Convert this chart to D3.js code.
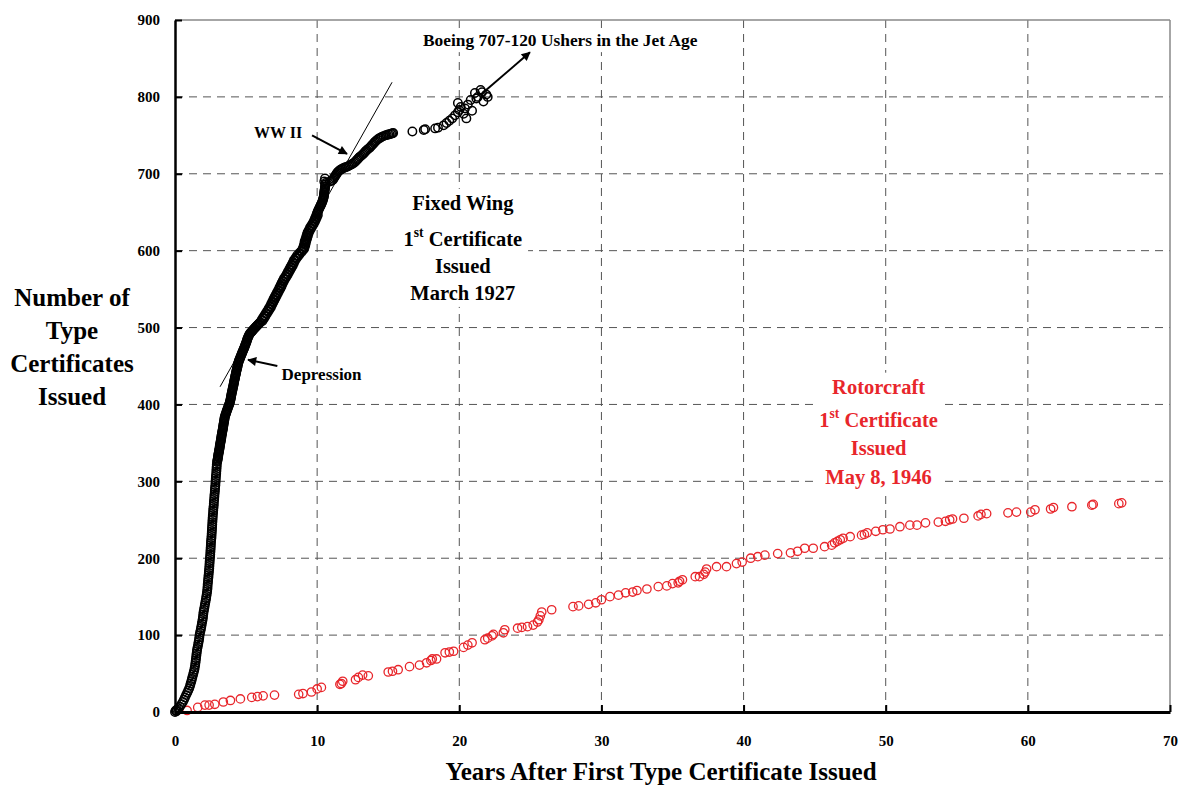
<!DOCTYPE html>
<html><head><meta charset="utf-8">
<script src="https://cdn.jsdelivr.net/npm/d3@7"></script>
<style>
body{margin:0;background:#fff}
svg{display:block}
text{font-family:"Liberation Serif","Times New Roman",serif;font-weight:bold}
</style>
</head><body>
<svg id="chart" width="1186" height="787"></svg>
<script>
// ---------------- DATA ----------------
const xTicks = [0,10,20,30,40,50,60,70];
const yTicks = [0,100,200,300,400,500,600,700,800,900];
const xTitle = "Years After First Type Certificate Issued";
const yTitle = ["Number of","Type","Certificates","Issued"];

// Fixed wing: [years after first certificate, cumulative certificates]
const fixedWing = [
[0.0,0],[0.05,2],[0.1,1],[0.15,3],[0.25,5],[0.35,7],[0.45,10],[0.55,13],[0.63,16],[0.7,19],[0.78,22],[0.86,25],[0.93,28],[1.0,31],[1.06,34],
[1.1,37],[1.15,40],[1.19,43],[1.23,46],[1.28,49],[1.32,52],[1.36,55],[1.39,58],[1.42,61],[1.44,64],[1.46,67],[1.48,70],[1.5,73],[1.52,76],[1.54,79],[1.56,82],
[1.6,85],[1.63,88],[1.66,91],[1.69,94],[1.71,97],[1.73,100],[1.76,103],[1.8,106],[1.83,109],[1.86,112],[1.89,115],
[1.92,118],[1.95,121],[1.97,124],[1.99,127],[2.01,130],[2.04,133],[2.07,136],[2.1,139],[2.13,142],[2.16,145],[2.19,148],[2.21,151],[2.24,154],
[2.26,157],[2.28,160],[2.29,163],[2.3,166],[2.32,169],[2.33,172],[2.35,175],[2.36,178],[2.38,181],[2.39,184],[2.41,187],[2.42,190],[2.43,193],[2.44,196],[2.45,199],
[2.47,202],[2.48,205],[2.49,208],[2.5,211],[2.51,214],[2.52,217],[2.53,220],[2.54,223],[2.56,226],[2.57,229],[2.58,232],[2.59,235],[2.6,238],[2.61,241],[2.62,244],[2.63,247],[2.64,250],[2.65,253],
[2.66,256],[2.68,259],[2.69,262],[2.7,265],[2.72,268],[2.73,271],[2.74,274],[2.76,277],[2.77,280],[2.78,283],[2.8,286],[2.81,289],[2.82,292],[2.84,295],[2.85,298],[2.86,301],[2.87,304],[2.88,307],[2.9,310],[2.91,313],[2.92,316],[2.93,319],[2.94,322],
[2.96,325],[2.99,328],[3.02,331],[3.04,334],[3.07,337],[3.1,340],[3.13,343],[3.15,346],[3.18,349],[3.21,352],[3.24,355],[3.26,358],[3.29,361],[3.32,364],[3.35,367],[3.38,370],[3.4,373],[3.43,376],[3.46,379],[3.48,382],
[2.98,326.5],[3.01,329.5],[3.04,332.5],[3.06,335.5],[3.09,338.5],[3.12,341.5],[3.15,344.5],[3.17,347.5],[3.2,350.5],[3.23,353.5],[3.26,356.5],[3.28,359.5],[3.31,362.5],[3.34,365.5],[3.37,368.5],[3.4,371.5],[3.42,374.5],[3.45,377.5],[3.48,380.5],[3.5,383.5],
[3.52,385],[3.58,388],[3.63,391],[3.69,394],[3.75,397],[3.81,400],[3.86,403],
[3.55,386.5],[3.61,389.5],[3.66,392.5],[3.72,395.5],[3.78,398.5],[3.84,401.5],
[3.9,406],[3.93,409],[3.96,412],[3.99,415],[4.03,418],[4.06,421],[4.1,424],[4.13,427],[4.16,430],[4.2,433],[4.23,436],[4.27,439],[4.3,442],[4.34,445],[4.38,448],[4.41,451],[4.45,454],
[3.88,404.5],[3.92,407.5],[3.95,410.5],[3.98,413.5],[4.01,416.5],[4.05,419.5],[4.08,422.5],[4.12,425.5],[4.15,428.5],[4.18,431.5],[4.22,434.5],[4.25,437.5],[4.29,440.5],[4.32,443.5],[4.36,446.5],[4.4,449.5],[4.43,452.5],
[4.5,457],[4.57,460],[4.63,463],[4.7,466],[4.76,469],[4.83,472],[4.9,475],[4.96,478],[5.02,481],[5.07,484],[5.13,487],[5.2,490],[5.3,493],
[4.48,455.5],[4.54,458.5],[4.6,461.5],[4.67,464.5],[4.73,467.5],[4.8,470.5],[4.87,473.5],[4.93,476.5],[4.99,479.5],[5.05,482.5],[5.1,485.5],[5.17,488.5],[5.25,491.5],
[5.4,495],[5.5,497],[5.6,499],[5.7,501],[5.8,503],[5.9,505],[6.0,507],
[5.35,494],[5.45,496],[5.55,498],[5.65,500],[5.75,502],[5.85,504],[5.95,506],
[6.1,510],[6.2,513],[6.3,516],[6.4,519],[6.5,522],[6.6,525],[6.7,528],[6.77,531],[6.85,534],[6.93,537],[7.01,540],[7.1,543],[7.18,546],[7.27,549],[7.35,552],[7.43,555],[7.5,558],[7.58,561],
[6.15,508.5],[6.25,511.5],[6.35,514.5],[6.45,517.5],[6.55,520.5],[6.65,523.5],[6.75,526.5],[6.83,529.5],[6.91,532.5],[6.99,535.5],[7.07,538.5],[7.15,541.5],[7.24,544.5],[7.32,547.5],[7.41,550.5],[7.49,553.5],[7.56,556.5],[7.64,559.5],[7.72,562.5],
[7.67,564],[7.78,567],[7.87,570],[7.95,573],[8.05,576],[8.13,579],[8.22,582],[8.3,585],[8.37,588],[8.5,591],[8.6,594],[8.75,597],[8.9,600],
[7.82,565.5],[7.92,568.5],[8.01,571.5],[8.1,574.5],[8.19,577.5],[8.28,580.5],[8.36,583.5],[8.43,586.5],[8.53,589.5],[8.65,592.5],[8.77,595.5],[8.92,598.5],[9.05,601.5],
[9.0,603],[9.05,606],[9.1,609],[9.12,612],[9.18,615],[9.23,618],[9.28,621],[9.33,624],[9.42,627],[9.5,630],[9.6,633],[9.7,636],[9.78,639],[9.85,642],[9.92,645],[9.98,648],
[9.12,604.5],[9.17,607.5],[9.21,610.5],[9.25,613.5],[9.3,616.5],[9.35,619.5],[9.4,622.5],[9.47,625.5],[9.56,628.5],[9.65,631.5],[9.75,634.5],[9.84,637.5],[9.91,640.5],[9.98,643.5],[10.05,646.5],
[10.05,651],[10.12,654],[10.2,657],[10.28,660],[10.35,663],[10.4,666],[10.45,669],[10.48,672],[10.5,675],[10.52,678],[10.55,681],[10.56,684],[10.6,688],[10.55,694],[10.5,690],
[10.02,649.5],[10.08,652.5],[10.16,655.5],[10.24,658.5],[10.31,661.5],[10.38,664.5],[10.43,667.5],[10.47,670.5],[10.49,673.5],[10.51,676.5],[10.53,679.5],[10.55,682.5],[10.58,686],
[10.9,690],[11.1,692],[11.2,695],[11.3,698],[11.4,701],[11.55,704],[11.7,706],
[11.9,708],[12.1,709],[12.3,711],[12.5,713],[12.7,716],[12.85,719],[13.0,722],[13.2,725],[13.35,728],[13.5,731],[13.7,734],[13.85,737],[14.0,740],[14.15,743],[14.35,746],[14.55,748],[14.8,750],[15.0,751],[15.2,752],[15.35,753],
[11.0,691],[11.15,693.5],[11.25,696.5],[11.35,699.5],[11.47,702.5],[11.62,705],[11.8,707],[12.0,708.5],[12.2,710],[12.4,712],[12.6,714.5],[12.77,717.5],[12.92,720.5],[13.1,723.5],[13.27,726.5],[13.42,729.5],[13.6,732.5],[13.77,735.5],[13.92,738.5],[14.07,741.5],[14.25,744.5],[14.45,747],[14.67,749],[14.9,750.5],[15.1,751.5],[15.28,752.5],
[16.7,755],[17.5,757],[17.6,758],[18.3,759],[18.5,760],[18.9,763],[19.1,766],[19.3,769],[19.5,772],[19.7,776],[19.9,780],[20.0,783],[20.1,787],[19.9,792],[20.3,778],[20.5,772],[20.4,785],[20.6,790],[20.8,796],[20.9,782],[21.1,805],[21.3,800],[21.5,809],[21.7,794],[21.9,803],[22.0,800],[21.6,806],[21.2,798]
];

// Rotorcraft: [years after first certificate, cumulative certificates]
const rotorcraft = [
[0.85,2],[1.6,6],[2.1,9],[2.4,9],[2.8,10],[3.4,13],[3.9,15],[4.6,17],[5.4,19],[5.8,20],[6.2,21],[7.0,22],[8.7,23],[9.0,24],[9.6,26],[10.0,30],[10.3,32],
[11.6,36],[11.7,37],[11.8,40],[12.7,42],[12.9,45],[13.2,48],[13.6,47],[15.0,52],[15.3,53],[15.7,55],[16.5,59],[17.2,61],[17.7,64],[18.0,67],[18.1,69],[18.4,69],
[19.0,77],[19.3,78],[19.6,79],[20.3,84],[20.6,87],[20.9,90],[21.8,94],[22.0,96],[22.3,99],[22.4,101],[23.1,103],[23.2,107],[24.1,109],[24.4,110],[24.8,111],
[25.2,113],[25.5,117],[25.6,120],[25.7,125],[25.8,130],[26.5,133],[28.0,137],[28.4,138],[29.1,140],[29.6,142],[30.0,146],[30.6,150],[31.2,152],[31.7,155],
[32.2,156],[32.5,158],[33.2,160],[34.0,163],[34.6,164],[35.0,167],[35.4,168],[35.5,170],[35.7,172],[36.6,176],[36.9,176],[37.2,179],[37.3,182],[37.4,186],
[38.1,189],[38.8,189],[39.5,193],[39.9,195],[40.5,200],[41.0,202],[41.5,204],[42.4,206],[43.3,207],[43.8,209],[44.3,213],[44.9,213],[45.7,215],[46.2,217],
[46.4,220],[46.6,222],[46.8,224],[47.0,226],[47.5,228],[48.3,230],[48.5,231],[48.7,233],[49.3,235],[49.8,237],[50.3,238],[51.0,241],[51.7,243],[52.2,243],
[52.8,246],[53.7,247],[54.2,248],[54.5,250],[54.7,251],[55.5,252],[56.5,255],[56.7,257],[57.1,258],[58.6,259],[59.2,260],[60.2,260],[60.5,263],[61.6,264],
[61.8,266],[63.1,267],[64.5,269],[64.6,270],[66.4,271],[66.6,272]
];

// Annotations (positions in data units)
const fixedWingLabel = ["Fixed Wing","1st Certificate","Issued","March 1927"];
const rotorLabel = ["Rotorcraft","1st Certificate","Issued","May 8, 1946"];
const fixedWingLabelAt = [20.25, 653];   // x, y of first baseline
const rotorLabelAt = [49.5, 414];
const trendLine = [[3.17,423],[15.27,819]];
const wwiiText = {text:"WW II", at:[8.95,746]};
const wwiiArrow = [[9.64,750],[12.1,726]];
const depText = {text:"Depression", at:[7.5,432]};
const depArrow = [[7.2,450],[5.14,458]];
const boeingText = {text:"Boeing 707-120 Ushers in the Jet Age", at:[27.1,866]};
const boeingArrow = [[21.46,802],[24.97,858]];

// ---------------- CHART ----------------
const svg = d3.select("#chart");
const x = d3.scaleLinear().domain([0,70]).range([175,1170]);
const y = d3.scaleLinear().domain([0,900]).range([712,20]);
const RED = "#e8262b";

const defs = svg.append("defs");
defs.append("marker").attr("id","ah").attr("viewBox","0 0 10 10")
  .attr("refX",9).attr("refY",5).attr("markerWidth",5).attr("markerHeight",4.5)
  .attr("orient","auto").attr("markerUnits","strokeWidth")
  .append("path").attr("d","M0,0 L10,5 L0,10 z").attr("fill","#000");

// grid
const grid = svg.append("g");
grid.selectAll(".hg").data(yTicks.filter(d=>d>0 && d<900)).join("line")
  .attr("x1",x(0)).attr("x2",x(70)).attr("y1",d=>y(d)).attr("y2",d=>y(d))
  .attr("stroke","#555").attr("stroke-width",1).attr("stroke-dasharray","8,6");
grid.selectAll(".vg").data(xTicks.filter(d=>d>0 && d<70)).join("line")
  .attr("x1",d=>x(d)).attr("x2",d=>x(d)).attr("y1",y(900)).attr("y2",y(0))
  .attr("stroke","#555").attr("stroke-width",1).attr("stroke-dasharray","8,6");

// frame top/right
svg.append("line").attr("x1",x(0)).attr("x2",x(70)).attr("y1",y(900)).attr("y2",y(900)).attr("stroke","#888").attr("stroke-width",1.5);
svg.append("line").attr("x1",x(70)).attr("x2",x(70)).attr("y1",y(900)).attr("y2",y(0)).attr("stroke","#888").attr("stroke-width",1.5);

const ann = svg.append("g");
function boxed(g, pad){
  const b = g.node().getBBox();
  g.insert("rect",":first-child").attr("x",b.x-pad).attr("y",b.y-pad/2)
   .attr("width",b.width+2*pad).attr("height",b.height+pad).attr("fill","#fff");
}
function labelBlock(lines, at, color, size, gaps){
  const g = ann.append("g");
  let yy = y(at[1]);
  lines.forEach((ln,i)=>{
    if(i>0) yy += gaps[i-1];
    const t = g.append("text").attr("x",x(at[0])).attr("y",yy).attr("text-anchor","middle")
      .attr("fill",color).style("font-size",size+"px");
    const m = ln.match(/^(\d+)(st|nd|rd|th)(.*)$/);
    if(m){
      t.append("tspan").text(m[1]);
      t.append("tspan").attr("dy",-9).style("font-size",(size*0.66)+"px").text(m[2]);
      t.append("tspan").attr("dy",9).text(m[3]);
    } else t.text(ln);
  });
  boxed(g,6);
}
labelBlock(fixedWingLabel, fixedWingLabelAt, "#000", 20.5, [36,27,27]);
labelBlock(rotorLabel, rotorLabelAt, RED, 20.5, [33,28,29]);

const bt = ann.append("g");
bt.append("text").attr("x",x(boeingText.at[0])).attr("y",y(boeingText.at[1])).attr("text-anchor","middle")
  .style("font-size","17.4px").text(boeingText.text);
boxed(bt,4);
const dt = ann.append("g");
dt.append("text").attr("x",x(depText.at[0])).attr("y",y(depText.at[1]))
  .style("font-size","17px").text(depText.text);
boxed(dt,3);
ann.append("text").attr("x",x(wwiiText.at[0])).attr("y",y(wwiiText.at[1])).attr("text-anchor","end")
  .style("font-size","16px").text(wwiiText.text);

const line = d3.line().x(d=>x(d[0])).y(d=>y(d[1]));
ann.append("path").attr("d",line(trendLine)).attr("stroke","#000").attr("stroke-width",1).attr("fill","none");
[wwiiArrow, depArrow, boeingArrow].forEach(a=>{
  ann.append("path").attr("d",line(a)).attr("stroke","#000").attr("stroke-width",2).attr("fill","none").attr("marker-end","url(#ah)");
});

// points
svg.append("g").selectAll("circle").data(rotorcraft).join("circle")
  .attr("cx",d=>x(d[0])).attr("cy",d=>y(d[1])).attr("r",4.2)
  .attr("fill","none").attr("stroke",RED).attr("stroke-width",1.3);
svg.append("g").selectAll("circle").data(fixedWing).join("circle")
  .attr("cx",d=>x(d[0])).attr("cy",d=>y(d[1])).attr("r",4.2)
  .attr("fill","none").attr("stroke","#000").attr("stroke-width",1.5);

// axes
const gy = svg.append("g").attr("transform",`translate(${x(0)},0)`)
  .call(d3.axisLeft(y).tickValues(yTicks).tickSize(-7).tickSizeOuter(0).tickPadding(15));
gy.select(".domain").attr("stroke","#000").attr("stroke-width",2.5);
gy.selectAll(".tick line").attr("stroke","#000").attr("stroke-width",2);
gy.selectAll(".tick text").style("font-size","15px").attr("fill","#000");

const gx = svg.append("g").attr("transform",`translate(0,${y(0)})`)
  .call(d3.axisBottom(x).tickValues(xTicks).tickSize(-7).tickSizeOuter(0).tickPadding(23));
gx.select(".domain").attr("stroke","#000").attr("stroke-width",3);
gx.selectAll(".tick line").attr("stroke","#000").attr("stroke-width",2);
gx.selectAll(".tick text").style("font-size","15px").attr("fill","#000");

// titles
svg.append("text").attr("x",661).attr("y",780).attr("text-anchor","middle")
  .style("font-size","25px").text(xTitle);
const yt = svg.append("text").attr("text-anchor","middle").style("font-size","25px");
yTitle.forEach((t,i)=>{
  yt.append("tspan").attr("x",72).attr("y",306+i*33).text(t);
});
</script>
</body></html>
